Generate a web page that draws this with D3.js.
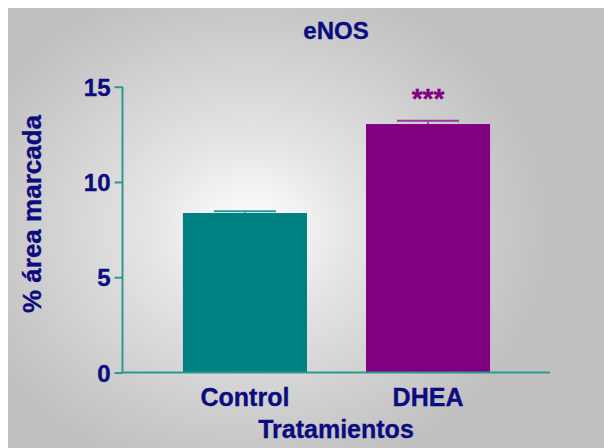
<!DOCTYPE html>
<html>
<head>
<meta charset="utf-8">
<script src="https://cdn.jsdelivr.net/npm/d3@7"></script>
<style>
  html, body { margin: 0; padding: 0; background: #ffffff; }
  svg { display: block; font-family: "Liberation Sans", Arial, sans-serif; font-weight: bold; }
  svg text { stroke-width: 0.35px; }
</style>
</head>
<body>
<svg id="chart" width="604" height="448"></svg>
<script>
// eNOS immunostaining: mean % labelled area with SEM
const categories = ["Control", "DHEA"];
const means = [8.37, 13.04];
const sems = [0.09, 0.17];
const significance = ["", "***"];
const yTicks = [0, 5, 10, 15];
const barColors = ["#008080", "#800080"];
const errColors = ["#2a9a94", "#9a3a9a"];

const svg = d3.select("#chart");
const navy = "#0c0c80";
const axisColor = "#2a9a90";

// Panel background: grey with a soft light centre
const defs = svg.append("defs");
const grad = defs.append("radialGradient")
  .attr("id", "bg")
  .attr("gradientUnits", "userSpaceOnUse")
  .attr("cx", 250).attr("cy", 228).attr("r", 300)
  .attr("gradientTransform", "translate(250,228) scale(1,0.85) translate(-250,-228)");
grad.append("stop").attr("offset", 0).attr("stop-color", "#ffffff");
grad.append("stop").attr("offset", 0.35).attr("stop-color", "#e4e4e4");
grad.append("stop").attr("offset", 0.75).attr("stop-color", "#cdcdcd");
grad.append("stop").attr("offset", 1).attr("stop-color", "#c0c0c0");

svg.append("rect").attr("x", 8).attr("y", 8).attr("width", 596).attr("height", 440)
  .attr("fill", "url(#bg)");

const plot = { left: 122.5, right: 550, top: 86.7, bottom: 372.5 };

const y = d3.scaleLinear().domain([0, 15]).range([plot.bottom, plot.top]);
const x = d3.scaleBand().domain(categories)
  .range([128, 545]).paddingInner(0.3224).paddingOuter(0.3);

// Bars
const g = svg.append("g");
g.selectAll("rect.bar").data(categories).join("rect")
  .attr("class", "bar")
  .attr("x", d => x(d))
  .attr("width", x.bandwidth())
  .attr("y", (d, i) => y(means[i]))
  .attr("height", (d, i) => y(0) - y(means[i]))
  .attr("fill", (d, i) => barColors[i]);

// Error bars (upper whisker only) and significance marks
categories.forEach((c, i) => {
  const cx = x(c) + x.bandwidth() / 2;
  const capHalf = x.bandwidth() / 4;
  const top = y(means[i] + sems[i]);
  g.append("line")
    .attr("x1", cx).attr("x2", cx)
    .attr("y1", y(means[i])).attr("y2", top)
    .attr("stroke", errColors[i]).attr("stroke-width", 1.5);
  g.append("line")
    .attr("x1", cx - capHalf).attr("x2", cx + capHalf)
    .attr("y1", top).attr("y2", top)
    .attr("stroke", errColors[i]).attr("stroke-width", 2);
  if (significance[i]) {
    g.append("text")
      .attr("x", cx).attr("y", top - 13)
      .attr("text-anchor", "middle")
      .attr("font-size", 28)
      .attr("fill", barColors[i]).attr("stroke", barColors[i])
      .text(significance[i]);
  }
});

// Y axis
const yAxis = svg.append("g")
  .attr("transform", `translate(${plot.left},0)`)
  .call(d3.axisLeft(y).tickValues(yTicks).tickSize(8).tickPadding(4).tickFormat(d3.format("d")));
yAxis.select(".domain").attr("stroke", axisColor).attr("stroke-width", 2)
  .attr("d", `M0,${plot.top}V${plot.bottom}`);
yAxis.selectAll(".tick line").attr("stroke", axisColor).attr("stroke-width", 2);
yAxis.selectAll(".tick text").attr("fill", navy).attr("stroke", navy).attr("font-size", 24)
  .attr("font-family", "Liberation Sans, Arial, sans-serif").attr("font-weight", "bold")
  .attr("dy", "0.36em");

// X axis line
svg.append("line")
  .attr("x1", plot.left).attr("x2", plot.right)
  .attr("y1", plot.bottom).attr("y2", plot.bottom)
  .attr("stroke", axisColor).attr("stroke-width", 2);

// Category labels
svg.selectAll("text.cat").data(categories).join("text")
  .attr("class", "cat")
  .attr("x", d => x(d) + x.bandwidth() / 2)
  .attr("y", 406)
  .attr("text-anchor", "middle")
  .attr("font-size", 25)
  .attr("fill", navy).attr("stroke", navy)
  .text(d => d);

// Titles
svg.append("text").attr("x", 336).attr("y", 39).attr("text-anchor", "middle")
  .attr("font-size", 24).attr("fill", navy).attr("stroke", navy).text("eNOS");
svg.append("text").attr("x", 336).attr("y", 438).attr("text-anchor", "middle")
  .attr("font-size", 25).attr("fill", navy).attr("stroke", navy).text("Tratamientos");
svg.append("text")
  .attr("transform", "translate(41,214) rotate(-90)")
  .attr("text-anchor", "middle")
  .attr("font-size", 26).attr("fill", navy).attr("stroke", navy).text("% área marcada");
</script>
</body>
</html>
